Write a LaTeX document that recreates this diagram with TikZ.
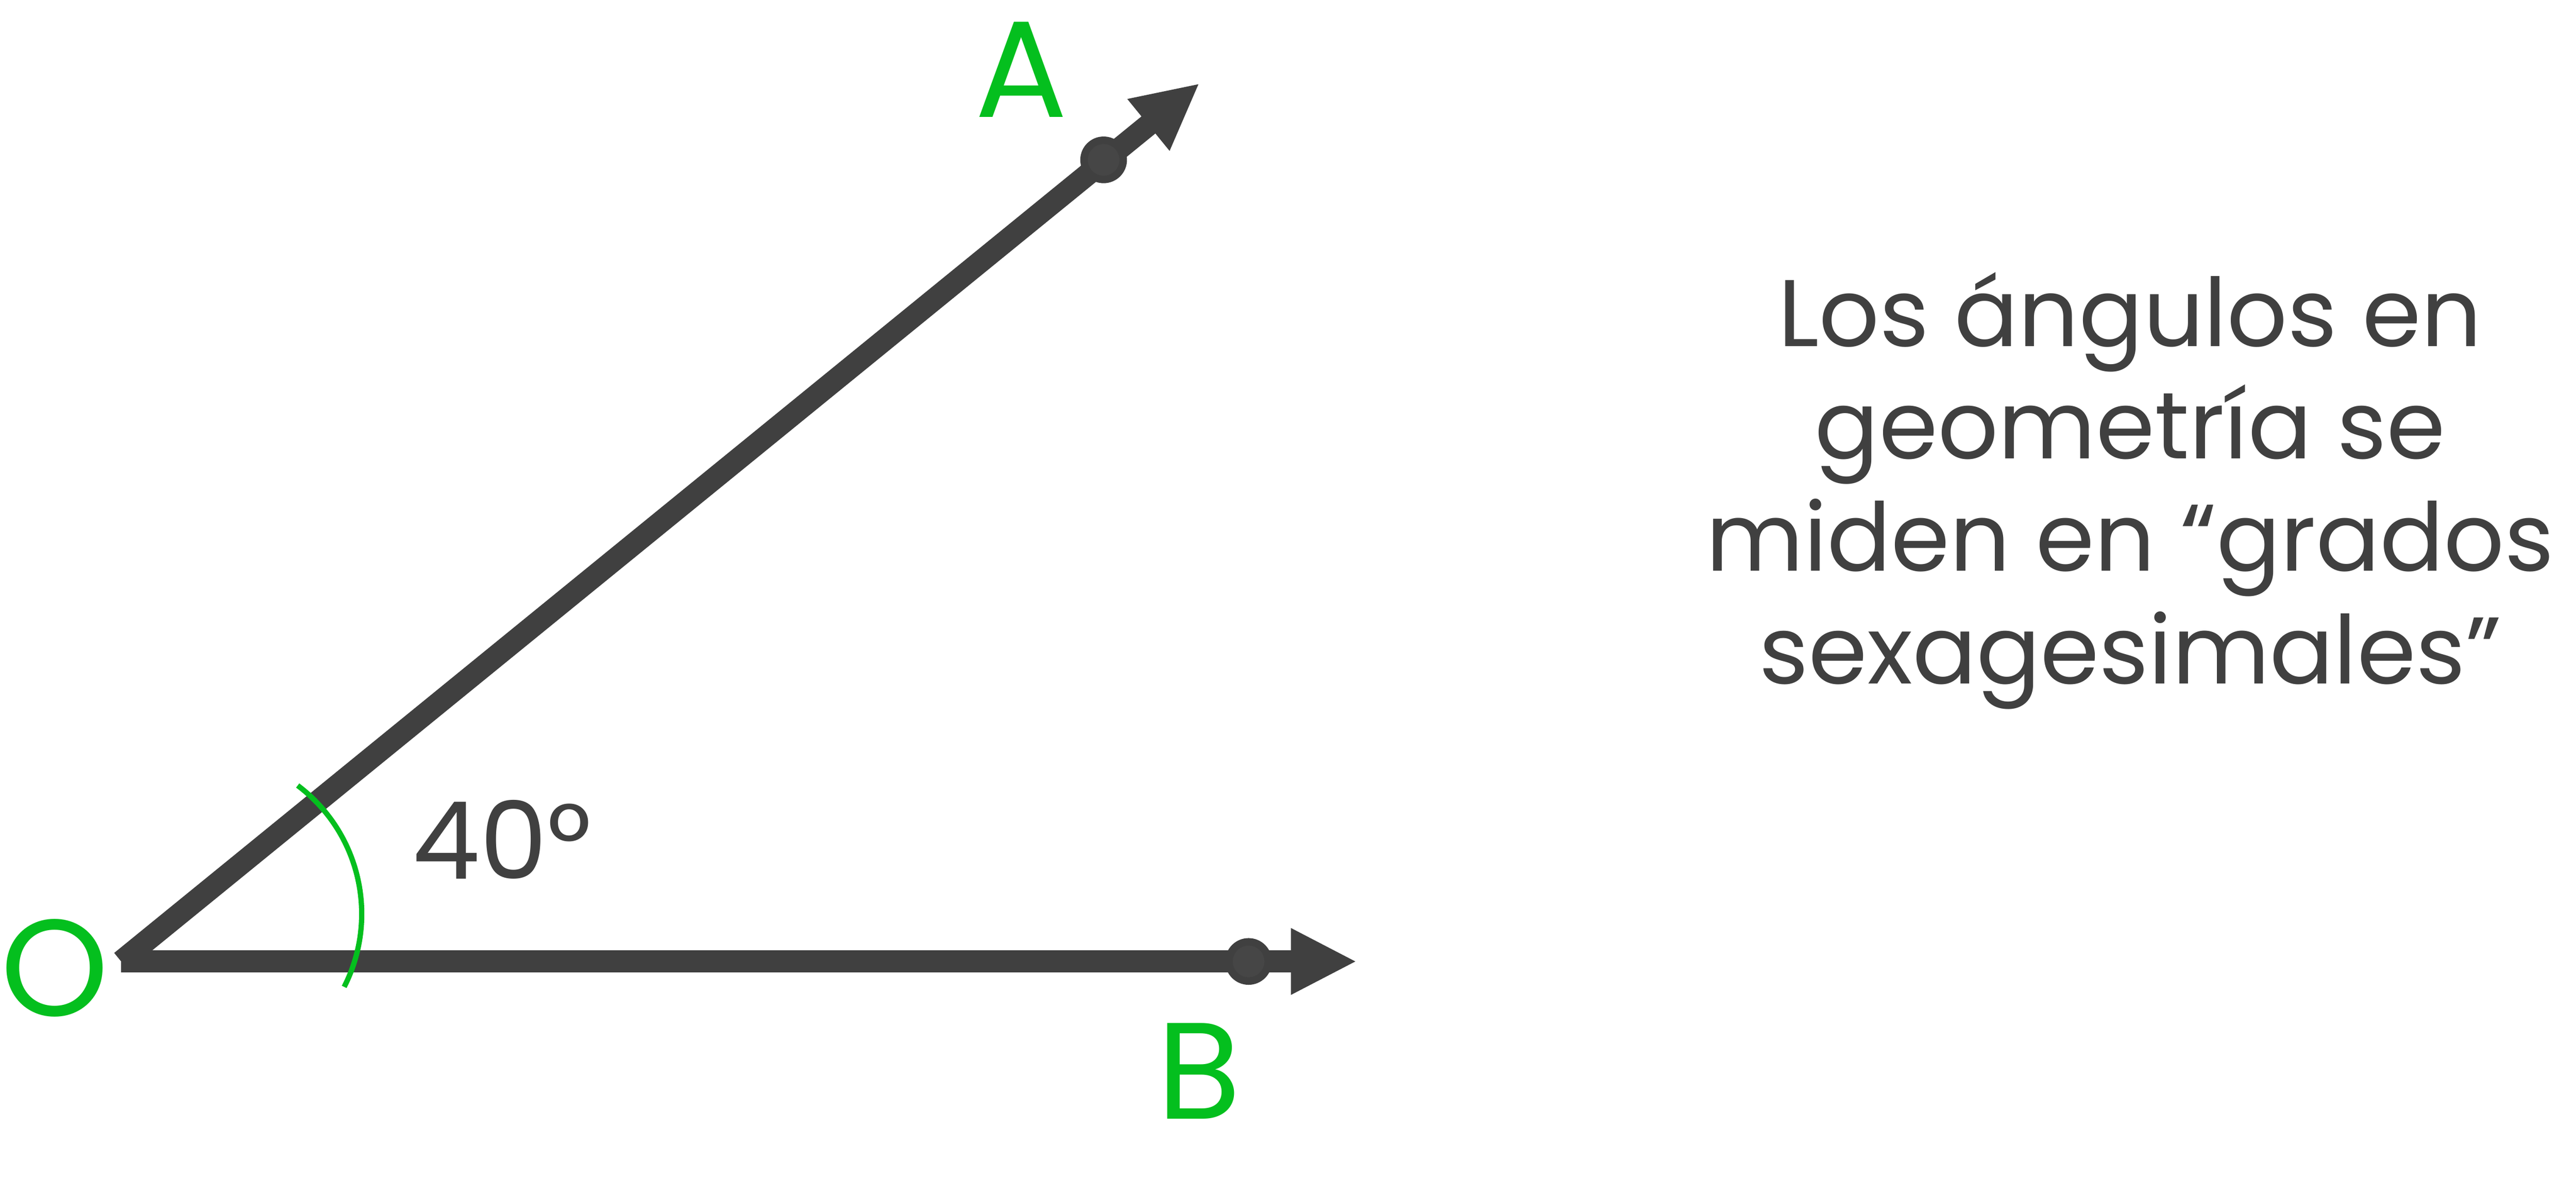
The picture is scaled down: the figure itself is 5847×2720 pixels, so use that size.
\documentclass[tikz,border=0pt]{standalone}
\usepackage{fontspec}
\setmainfont{Poppins}
\usepackage{xcolor}
\usepackage{tikz}
\usetikzlibrary{arrows.meta}
\definecolor{raygray}{HTML}{404040}
\definecolor{dotgray}{HTML}{464646}
\definecolor{anglegreen}{HTML}{04BF1E}
\tikzset{
    mylabel/.style = {inner sep=0, anchor=base, text=anglegreen, font=\fontsize{88.7pt}{100pt}\selectfont},
    mydot/.style = {circle, draw=raygray, fill=dotgray, line width=1.7mm, minimum size=8.9mm, inner sep=0},
    mytext/.style = {inner sep=0, anchor=base, align=center, text=raygray, font=\fontsize{61.2pt}{72.6pt}\selectfont},
}

\begin{document}
\begin{tikzpicture}[
	x=0.1mm,
	y=0.1mm
]
\tikzset{
    myray/.style = {raygray, line width=5mm, -{Triangle[length=15mm,width=14mm]}},
    myarc/.style = {anglegreen, line width=1.2mm}
}
\useasboundingbox (0,0) rectangle (5847,2720);
\coordinate (o) at (275,537);
\coordinate (ta) at (2723,2531);
\coordinate (tb) at (3080,537);
%
\draw[myray] (o) -- (ta);
\draw[myray] (o) -- (tb);
\node[mydot] at (2505,2357) (a) {};
\node[mydot] at (2834,537) (b) {};
%
\draw[myarc] (456,645) ++(-27:365) arc[start angle=-27, end angle=53, radius=365];
%
\node[mylabel] at (124,413) (lo) {O};
\node[mylabel] at (2318,2454) (la) {A};
\node[mylabel] at (2721,180) (lb) {B};
\node[mytext, font=\fontsize{69.4pt}{80pt}\selectfont, anchor=base west] at (935,724) (ang) {40°};
%
\node[mytext] at (4835,1168) (txt) {Los ángulos en\\geometría se\\miden en “grados\\sexagesimales”};
\end{tikzpicture}
\end{document}
